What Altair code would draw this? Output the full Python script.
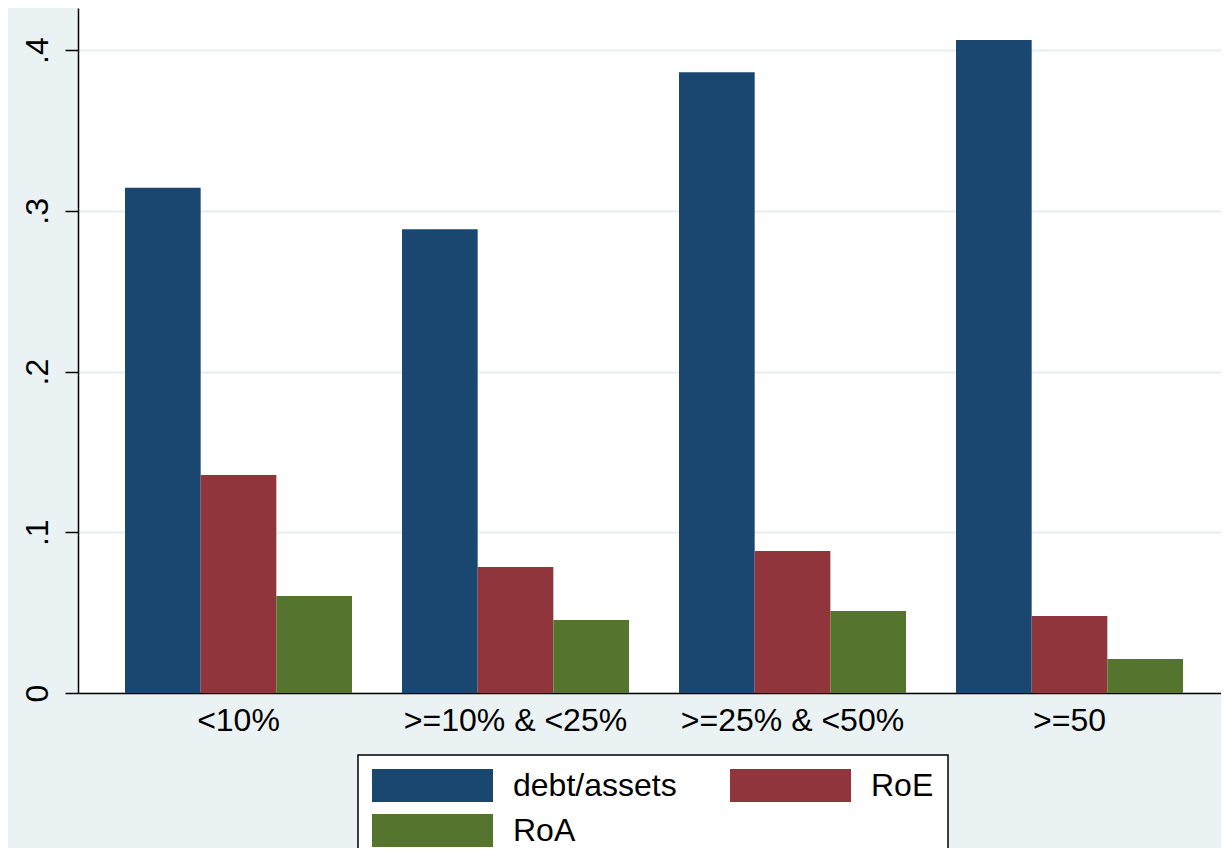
import altair as alt
import pandas as pd

categories = ["<10%", ">=10% & <25%", ">=25% & <50%", ">=50"]
series_names = ["debt/assets", "RoE", "RoA"]
debt_assets = [0.3144, 0.2886, 0.3863, 0.4063]
roe = [0.1356, 0.0784, 0.0883, 0.0479]
roa = [0.0603, 0.0454, 0.0510, 0.0212]
series_colors = ["#1A476F", "#90353B", "#55752F"]
y_ticks = [0, 0.1, 0.2, 0.3, 0.4]

rows = []
for name, vals in zip(series_names, [debt_assets, roe, roa]):
    for c, v in zip(categories, vals):
        rows.append({"group": c, "series": name, "value": v})
df = pd.DataFrame(rows)

FONT = "Liberation Sans, Arial, sans-serif"

chart = alt.Chart(df).mark_bar().encode(
    x=alt.X("group:N", sort=categories,
            scale=alt.Scale(paddingInner=0.1805, paddingOuter=0.1534, align=0.553),
            axis=alt.Axis(title=None, labelAngle=0, labelFontSize=32, labelFont=FONT,
                          labelColor="black", ticks=False, tickSize=0, labelPadding=12,
                          labelLimit=600,
                          domainColor="black", domainWidth=1.5, grid=False)),
    xOffset=alt.XOffset("series:N", sort=series_names,
                        scale=alt.Scale(domain=series_names, paddingInner=0, paddingOuter=0)),
    y=alt.Y("value:Q", scale=alt.Scale(domain=[0, 0.4262], nice=False, zero=True),
            axis=alt.Axis(title=None, values=y_ticks,
                          labelExpr="datum.value == 0 ? '0' : '.' + round(datum.value*10)",
                          labelAngle=270, labelAlign="center", labelBaseline="alphabetic",
                          labelFontSize=32, labelFont=FONT, labelColor="black",
                          labelPadding=18, tickSize=13, tickColor="black", tickWidth=1.5,
                          domainColor="black", domainWidth=1.5,
                          grid=True, gridColor="#E6EEF0", gridWidth=2)),
    color=alt.Color("series:N", sort=series_names,
                    scale=alt.Scale(domain=series_names, range=series_colors),
                    legend=alt.Legend(title=None, orient="none", legendX=280, legendY=747,
                                      columns=2, direction="horizontal",
                                      symbolType="M-1,-0.2727H1V0.2727H-1Z",
                                      symbolSize=14641, symbolStrokeWidth=0,
                                      clipHeight=33,
                                      labelFontSize=32, labelFont=FONT, labelColor="black",
                                      labelOffset=20, columnPadding=53, rowPadding=12,
                                      padding=14, strokeColor="black", fillColor="white",
                                      labelLimit=400)),
).properties(
    width=1143,
    height=685,
    background="#EAF2F3",
    autosize=alt.AutoSizeParams(type="none"),
    padding={"left": 70, "top": 0, "right": 0, "bottom": 155},
).configure_view(
    stroke=None,
    fill="white",
).configure_legend(
    strokeWidth=1.5,
)

chart.save("out.html", embed_options={"renderer": "svg", "actions": False})
